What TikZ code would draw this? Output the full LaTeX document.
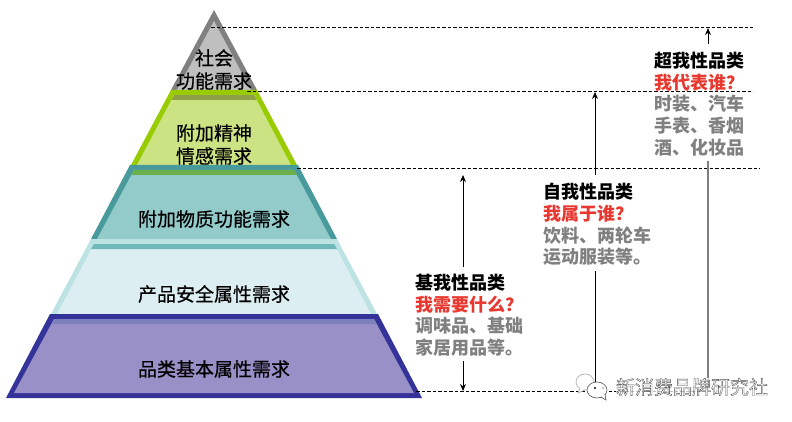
\documentclass[tikz,border=0pt]{standalone}
\usepackage{fontspec}
\setmainfont{Noto Sans CJK SC}
\newfontfamily\tagfont[FakeBold=0.35]{Noto Sans CJK SC}
\usetikzlibrary{arrows.meta}
\definecolor{redq}{HTML}{E8382F}
\definecolor{grayq}{HTML}{808080}
\definecolor{grayline}{HTML}{808080}
\definecolor{grayfill}{HTML}{BFBFBF}
\definecolor{greenline}{HTML}{99CC00}
\definecolor{greenfill}{HTML}{CCE384}
\definecolor{greenstrip}{HTML}{8F9F45}
\definecolor{tealline}{HTML}{489A9C}
\definecolor{tealfill}{HTML}{93CBCB}
\definecolor{tealstrip}{HTML}{6CB04C}
\definecolor{paleline}{HTML}{BCE2E4}
\definecolor{palefill}{HTML}{DCEEF1}
\definecolor{palestrip}{HTML}{6FB9B9}
\definecolor{blueline}{HTML}{333399}
\definecolor{bluefill}{HTML}{9A90C8}
\definecolor{bluestrip}{HTML}{7D80BB}
\tikzset{tag/.style={font=\tagfont\fontsize{19}{19}\selectfont,inner sep=0pt},
         wmark/.style={font=\fontsize{19}{19}\selectfont,inner sep=0pt,fill=white,fill opacity=0.75,text opacity=1,text=black!70},
         head/.style={font=\bfseries\fontsize{18}{21.7}\selectfont,align=left,inner sep=0pt,anchor=north west},
         guide/.style={line width=0.8pt,dash pattern=on 3.5pt off 2pt},
         arrow/.style={-{Stealth[length=7pt,width=6pt]},line width=0.9pt}}
\begin{document}
\begin{tikzpicture}[x=1pt,y=-1pt]
    \useasboundingbox (0,0) rectangle (792,422);
    % Layers
    \fill[grayline] (214,10) -- (257,90) -- (171,90) -- cycle;
    \fill[grayfill] (214,21) -- (251,90) -- (177,90) -- cycle;
    \fill[greenline] (171,90) -- (257,90) -- (297,165) -- (131,165) -- cycle;
    \fill[greenfill] (174,95) -- (254,95) -- (291,165) -- (137,165) -- cycle;
    \fill[greenstrip] (174,95) -- (254,95) -- (256.5,100) -- (171.5,100) -- cycle;
    \fill[tealline] (130,165) -- (298,165) -- (337,239) -- (91,239) -- cycle;
    \fill[tealfill] (134,170) -- (294,170) -- (331,239) -- (97,239) -- cycle;
    \fill[tealstrip] (134,170) -- (294,170) -- (297,175) -- (131,175) -- cycle;
    \fill[paleline] (91,239) -- (337,239) -- (377,314) -- (51,314) -- cycle;
    \fill[palefill] (94,244) -- (334,244) -- (371,314) -- (57,314) -- cycle;
    \fill[palestrip] (94,244) -- (334,244) -- (337,249) -- (91,249) -- cycle;
    \fill[blueline] (50,314) -- (378,314) -- (422,398) -- (6,398) -- cycle;
    \fill[bluefill] (54,319) -- (374,319) -- (414,393) -- (14,393) -- cycle;
    \fill[bluestrip] (54,319) -- (374,319) -- (376.5,324) -- (51.5,324) -- cycle;
    % Labels
    \node (social) at (214,58) [tag]{社会};
    \node (socialb) at (214,81) [tag]{功能需求};
    \node (spirit) at (214,133) [tag]{附加精神};
    \node (spiritb) at (214,156) [tag]{情感需求};
    \node (material) at (214,219) [tag]{附加物质功能需求};
    \node (safety) at (214,294) [tag]{产品安全属性需求};
    \node (basic) at (214,369) [tag]{品类基本属性需求};
    % Columns
    \node (base) at (415,274) [head]{基我性品类\\\textcolor{redq}{我需要什么？}\\\textcolor{grayq}{调味品、基础}\\\textcolor{grayq}{家居用品等。}};
    \node (self) at (543,183) [head]{自我性品类\\\textcolor{redq}{我属于谁？}\\\textcolor{grayq}{饮料、两轮车}\\\textcolor{grayq}{运动服装等。}};
    \node (super) at (654,52) [head]{超我性品类\\\textcolor{redq}{我代表谁？}\\\textcolor{grayq}{时装、汽车}\\\textcolor{grayq}{手表、香烟}\\\textcolor{grayq}{酒、化妆品}};
    % Guides
    \coordinate (topl) at (211,27);
    \coordinate (topr) at (753,27);
    \coordinate (midl) at (247,91);
    \coordinate (midr) at (753,91);
    \coordinate (lowl) at (297,168);
    \coordinate (lowr) at (760,168);
    \coordinate (botl) at (416,391);
    \coordinate (botr) at (712,391);
    \draw[guide] (topl) -- (topr);
    \draw[guide] (midl) -- (midr);
    \draw[guide] (lowl) -- (lowr);
    \draw[guide] (botl) -- (botr);
    % Arrows
    \coordinate (basea) at (463,267);
    \coordinate (baseb) at (463,175);
    \coordinate (basec) at (463,361);
    \coordinate (based) at (463,391);
    \coordinate (selfa) at (595,175);
    \coordinate (selfb) at (595,92);
    \coordinate (selfc) at (595,271);
    \coordinate (selfd) at (595,391);
    \coordinate (supera) at (708,44);
    \coordinate (superb) at (708,28);
    \coordinate (superc) at (708,161);
    \coordinate (superd) at (708,391);
    \draw[arrow] (basea) -- (baseb);
    \draw[arrow] (basec) -- (based);
    \draw[arrow] (selfa) -- (selfb);
    \draw[arrow] (selfc) -- (selfd);
    \draw[arrow] (supera) -- (superb);
    \draw[arrow,draw=grayq,line width=1.3pt] (superc) -- (superd);
    % Mark
    \node (mark) at (692,387) [wmark]{\special{pdf:code 1 Tr 0.35 w}新消费品牌研究社\special{pdf:code 0 Tr}};
    \draw[black!30,fill=white,line width=0.7pt] (585,382) ellipse [x radius=9,y radius=8];
    \draw[black!30,fill=white,line width=0.7pt] (580,388) -- (578,393) -- (585,390);
    \draw[black!60,fill=white,line width=0.7pt] (597,390) ellipse [x radius=10,y radius=8];
    \draw[black!60,fill=white,line width=0.7pt] (601,397) -- (606,400) -- (605,394);
    \fill[white] (598,393) circle (4);
    \fill[black] (595,388) circle (1.2);
    \fill[black!40] (603,388) circle (1);
\end{tikzpicture}
\end{document}
